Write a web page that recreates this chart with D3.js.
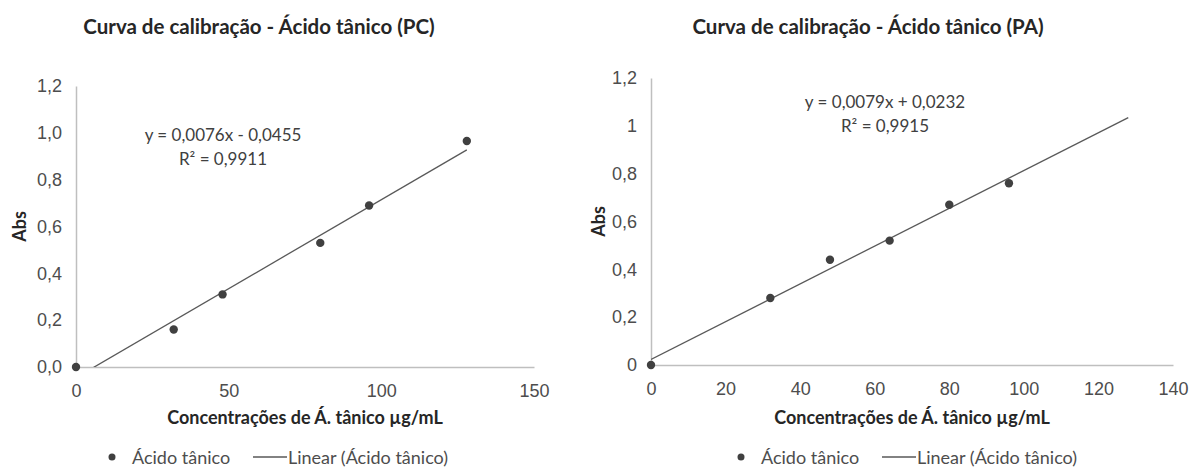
<!DOCTYPE html>
<html>
<head>
<meta charset="utf-8">
<script src="https://cdn.jsdelivr.net/npm/d3@7"></script>
<style>
    body { margin: 0; background: #fff; }
    svg { display: block; font-family: Lato, "Open Sans", sans-serif; }
</style>
</head>
<body>
<div id="chart"></div>
<script>
// dados
const concPC = [0, 32, 48, 80, 96, 128];
const absPC = [0, 0.16, 0.31, 0.53, 0.69, 0.965];
const concPA = [0, 32, 48, 64, 80, 96];
const absPA = [0, 0.28, 0.44, 0.52, 0.67, 0.76];

// linha de tendência: [inclinação, intercepto] e faixa de x desenhada
const fitPC = [0.0076, -0.0455];
const fitPA = [0.0079, 0.0232];
const trendRangePC = [0, 128];
const trendRangePA = [0, 128];
const eqPC = ["y = 0,0076x - 0,0455", "R² = 0,9911"];
const eqPA = ["y = 0,0079x + 0,0232", "R² = 0,9915"];

const xTicksPC = [0, 50, 100, 150];
const xTicksPA = [0, 20, 40, 60, 80, 100, 120, 140];
const yTicks = [0, 0.2, 0.4, 0.6, 0.8, 1.0, 1.2];

const titlePC = "Curva de calibração - Ácido tânico (PC)";
const titlePA = "Curva de calibração - Ácido tânico (PA)";
const xLabel = "Concentrações de Á. tânico µg/mL";
const yLabel = "Abs";
const legendLabels = ["Ácido tânico", "Linear (Ácido tânico)"];

const br = d3.formatLocale({decimal: ",", thousands: ".", grouping: [3], currency: ["R$", ""]});

let width = 1196;
let height = 476;

const svg = d3.select("#chart").append("svg")
    .attr("width", width)
    .attr("height", height);

function drawChart(cfg) {
    let g = svg.append("g");

    let x = d3.scaleLinear().domain([0, cfg.xTicks[cfg.xTicks.length - 1]]).range([cfg.left, cfg.right]);
    let y = d3.scaleLinear().domain([0, 1.2]).range([cfg.bottom, cfg.top]);

    // eixos
    let xAxis = g.append("g")
        .attr("transform", "translate(0," + cfg.bottom + ")")
        .call(d3.axisBottom(x).tickValues(cfg.xTicks).tickSize(0).tickPadding(17).tickFormat(br.format("d")));
    let yAxis = g.append("g")
        .attr("transform", "translate(" + cfg.left + ",0)")
        .call(d3.axisLeft(y).tickValues(yTicks).tickSize(0).tickPadding(14).tickFormat(cfg.yFormat));

    [xAxis, yAxis].forEach(function (a) {
        a.select(".domain").attr("stroke", "#bfbfbf").attr("stroke-width", 1.5);
        a.selectAll("text").attr("fill", "#4d4d4d").attr("font-size", 18).attr("font-family", null);
    });

    // linha de tendência (recortada na área do gráfico)
    g.append("clipPath").attr("id", "clip" + cfg.id)
        .append("rect")
        .attr("x", cfg.left).attr("y", cfg.top)
        .attr("width", cfg.right - cfg.left).attr("height", cfg.bottom - cfg.top);

    g.append("path")
        .datum(cfg.trend)
        .attr("clip-path", "url(#clip" + cfg.id + ")")
        .attr("fill", "none")
        .attr("stroke", "#595959")
        .attr("stroke-width", 1.3)
        .attr("d", d3.line().x(d => x(d)).y(d => y(cfg.fit[0] * d + cfg.fit[1])));

    // pontos
    g.selectAll("circle.pt")
        .data(cfg.xs.map((v, i) => [v, cfg.ys[i]]))
        .join("circle")
        .attr("class", "pt")
        .attr("cx", d => x(d[0]))
        .attr("cy", d => y(d[1]))
        .attr("r", 4.2)
        .attr("fill", "#404040");

    // equação
    g.append("text")
        .attr("x", cfg.eqX)
        .attr("y", cfg.eqY)
        .attr("text-anchor", "middle")
        .attr("font-size", 17)
        .attr("fill", "#404040")
        .text(cfg.eq[0]);
    g.append("text")
        .attr("x", cfg.eqX)
        .attr("y", cfg.eqY + 24)
        .attr("text-anchor", "middle")
        .attr("font-size", 17)
        .attr("fill", "#404040")
        .text(cfg.eq[1]);

    // títulos
    g.append("text")
        .attr("x", cfg.titleX)
        .attr("y", 34)
        .attr("text-anchor", "middle")
        .attr("font-size", 20.5)
        .attr("font-weight", "bold")
        .attr("fill", "#262626")
        .text(cfg.title);

    g.append("text")
        .attr("x", (cfg.left + cfg.right) / 2)
        .attr("y", 424)
        .attr("text-anchor", "middle")
        .attr("font-size", 18)
        .attr("font-weight", "bold")
        .attr("fill", "#262626")
        .text(xLabel);

    g.append("text")
        .attr("transform", "translate(" + cfg.yLabelX + "," + (cfg.top + cfg.bottom) / 2 + ") rotate(-90)")
        .attr("text-anchor", "middle")
        .attr("dominant-baseline", "central")
        .attr("font-size", 18)
        .attr("font-weight", "bold")
        .attr("fill", "#262626")
        .text(yLabel);

    // legenda
    let lx = cfg.legendX, ly = 457;
    g.append("circle").attr("cx", lx).attr("cy", ly).attr("r", 3.5).attr("fill", "#404040");
    g.append("text")
        .attr("x", lx + 20).attr("y", ly)
        .attr("dominant-baseline", "central")
        .attr("font-size", 18).attr("fill", "#4d4d4d")
        .text(legendLabels[0]);
    g.append("line")
        .attr("x1", lx + 141).attr("x2", lx + 175)
        .attr("y1", ly).attr("y2", ly)
        .attr("stroke", "#595959").attr("stroke-width", 1.3);
    g.append("text")
        .attr("x", lx + 176).attr("y", ly)
        .attr("dominant-baseline", "central")
        .attr("font-size", 18).attr("fill", "#4d4d4d")
        .text(legendLabels[1]);
}

drawChart({
    id: "PC",
    xs: concPC, ys: absPC, fit: fitPC, eq: eqPC, trend: trendRangePC,
    xTicks: xTicksPC, yFormat: br.format(".1f"),
    left: 76, right: 534, top: 86, bottom: 367,
    eqX: 223, eqY: 141,
    title: titlePC, titleX: 259,
    yLabelX: 19, legendX: 112
});

drawChart({
    id: "PA",
    xs: concPA, ys: absPA, fit: fitPA, eq: eqPA, trend: trendRangePA,
    xTicks: xTicksPA, yFormat: br.format(""),
    left: 651, right: 1173, top: 78, bottom: 365,
    eqX: 885, eqY: 108,
    title: titlePA, titleX: 868,
    yLabelX: 598, legendX: 741
});
</script>
</body>
</html>
